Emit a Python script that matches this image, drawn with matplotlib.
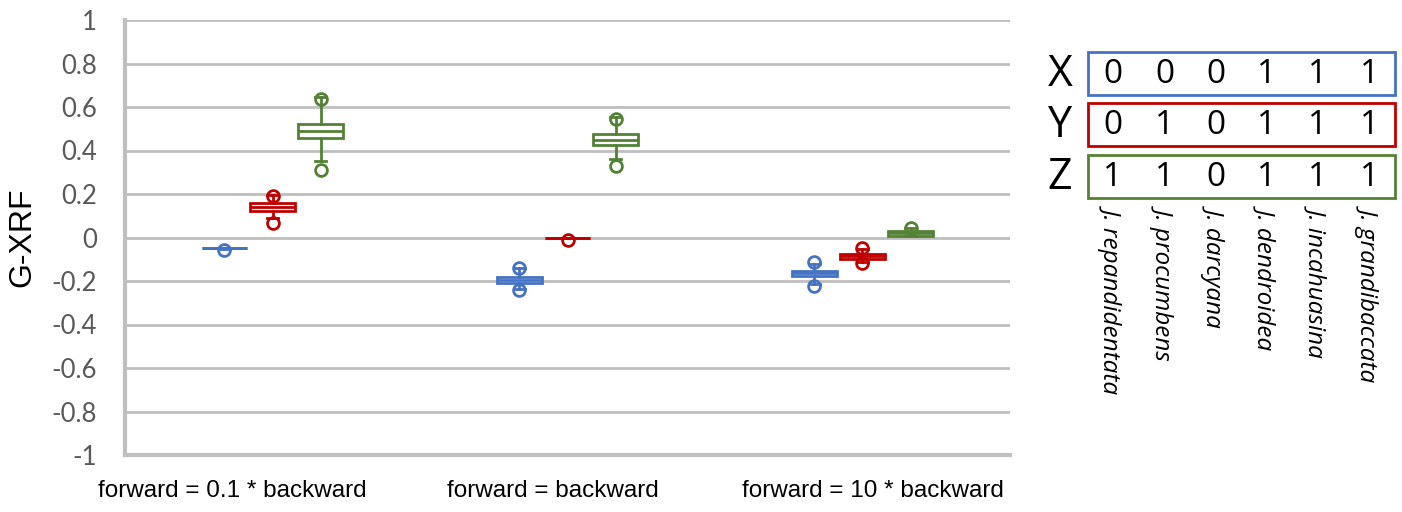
import matplotlib
matplotlib.use("Agg")
import matplotlib.pyplot as plt
import matplotlib.transforms as mtransforms
from matplotlib.patches import Rectangle


# categories on the x axis
groups = ["forward = 0.1 * backward", "forward = backward", "forward = 10 * backward"]
series = ["X", "Y", "Z"]
colors = ["#4472C4", "#C00000", "#548235"]

# box statistics per series, one value per group
q1 = {
    "X": [-0.047, -0.208, -0.176],
    "Y": [0.121, 0.0, -0.098],
    "Z": [0.458, 0.424, 0.009],
}
med = {
    "X": [-0.047, -0.195, -0.165],
    "Y": [0.139, 0.0, -0.086],
    "Z": [0.490, 0.450, 0.020],
}
q3 = {
    "X": [-0.047, -0.182, -0.153],
    "Y": [0.157, 0.0, -0.075],
    "Z": [0.523, 0.476, 0.030],
}
whislo = {
    "X": [-0.055, -0.238, -0.215],
    "Y": [0.090, 0.0, -0.112],
    "Z": [0.352, 0.360, 0.009],
}
whishi = {
    "X": [-0.047, -0.142, -0.120],
    "Y": [0.196, 0.0, -0.055],
    "Z": [0.645, 0.552, 0.042],
}
fliers = {
    "X": [[-0.058], [-0.142, -0.243], [-0.113, -0.225]],
    "Y": [[0.193, 0.067], [-0.010], [-0.049, -0.118]],
    "Z": [[0.638, 0.312], [0.546, 0.330], [0.045]],
}

# species table on the right
species = ["J. repandidentata", "J. procumbens", "J. darcyana",
           "J. dendroidea", "J. incahuasina", "J. grandibaccata"]
table = {
    "X": [0, 0, 0, 1, 1, 1],
    "Y": [0, 1, 0, 1, 1, 1],
    "Z": [1, 1, 0, 1, 1, 1],
}

grid_col = "#BFBFBF"
text_col = "#595959"

fig = plt.figure(figsize=(14.02, 5.12), dpi=100)
ax = fig.add_axes([125 / 1402, 57 / 512, 885 / 1402, 435 / 512])

offset = 0.163
for k, s in enumerate(series):
    stats = []
    for g in range(len(groups)):
        stats.append(dict(q1=q1[s][g], med=med[s][g], q3=q3[s][g],
                          whislo=whislo[s][g], whishi=whishi[s][g],
                          fliers=fliers[s][g]))
    pos = [g + (k - 1) * offset for g in range(len(groups))]
    c = colors[k]
    ax.bxp(stats, positions=pos, widths=0.15, capwidths=0.04,
           patch_artist=True, manage_ticks=False,
           boxprops=dict(facecolor="white", edgecolor=c, linewidth=2),
           medianprops=dict(color=c, linewidth=2),
           whiskerprops=dict(color=c, linewidth=2),
           capprops=dict(color=c, linewidth=2),
           flierprops=dict(marker="o", markerfacecolor="none",
                           markeredgecolor=c, markersize=8.5,
                           markeredgewidth=2),
           zorder=3)

ax.set_xlim(-0.5, 2.5)
ax.set_ylim(-1, 1)
ax.set_yticks([i / 10 for i in range(-10, 11, 2)])
ax.set_yticklabels(["1" if v == 10 else "-1" if v == -10 else "0" if v == 0
                    else f"{v / 10:g}" for v in range(-10, 11, 2)],
                   family="Lato", fontsize=18.5, color=text_col)
ax.yaxis.grid(True, color=grid_col, linewidth=2)
ax.set_axisbelow(True)
for side in ["top", "right"]:
    ax.spines[side].set_visible(False)
for side in ["left", "bottom"]:
    ax.spines[side].set_color(grid_col)
    ax.spines[side].set_linewidth(3)
ax.tick_params(axis="y", length=0, pad=20)
ax.tick_params(axis="x", length=0, pad=18)

ax.set_xticks(range(len(groups)))
ax.set_xticklabels(groups, family="Liberation Sans", fontsize=17.5,
                   color="black")
label_shift = [-40, -15, 10]
for lab, dx in zip(ax.get_xticklabels(), label_shift):
    lab.set_transform(lab.get_transform() +
                      mtransforms.ScaledTranslation(dx / 100, 0, fig.dpi_scale_trans))

ax.set_ylabel("G-XRF", family="Liberation Sans", fontsize=23, labelpad=10)

# species table drawn in pixel space
tab = fig.add_axes([0, 0, 1, 1])
tab.set_xlim(0, 1402)
tab.set_ylim(512, 0)
tab.axis("off")

col_x = [1113, 1165, 1216, 1267, 1318, 1370]
row_top = [52, 103, 155]
row_h = 43
for k, s in enumerate(series):
    y0 = row_top[k]
    tab.add_patch(Rectangle((1088, y0), 307, row_h, fill=False,
                            edgecolor=colors[k], linewidth=2))
    tab.text(1060, y0 + row_h / 2 + 1, s, family="Open Sans", fontsize=31,
             ha="center", va="center")
    for x, v in zip(col_x, table[s]):
        tab.text(x, y0 + row_h / 2 + 1, str(v), family="Open Sans",
                 fontsize=24, ha="center", va="center")

for x, name in zip(col_x, species):
    tab.text(x, 205, name, family="Open Sans", style="italic", fontsize=17.5,
             rotation=-90, ha="center", va="top")

fig.savefig("out.png", dpi=100)
